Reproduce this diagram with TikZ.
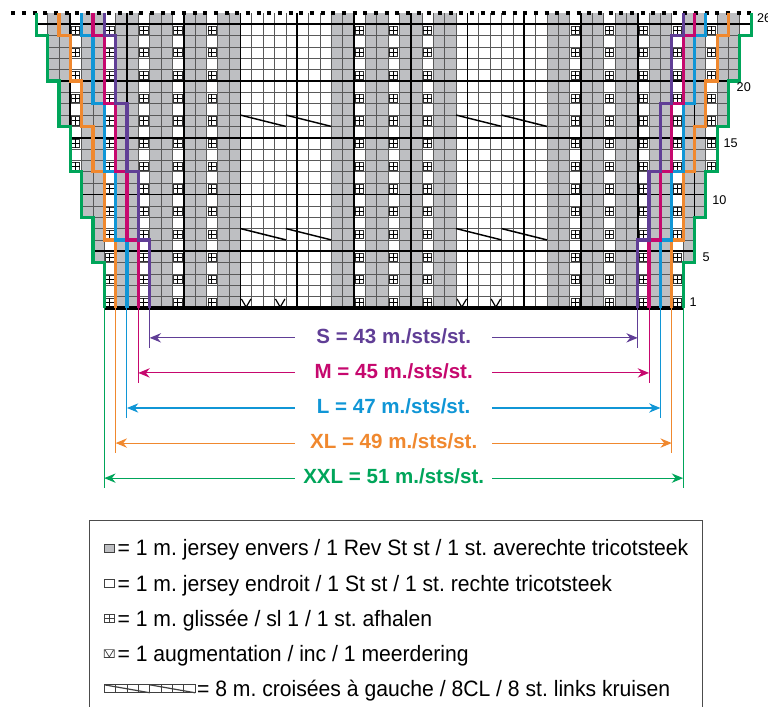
\documentclass[tikz,border=0pt]{standalone}
\usepackage{fontspec}
\setmainfont{Liberation Sans}
\newfontfamily\keyfont[FakeStretch=0.95]{Liberation Sans}
\usepackage{tikz}
\usetikzlibrary{arrows.meta,calc,positioning}

\definecolor{sizeS}{RGB}{96,62,150}
\definecolor{sizeM}{RGB}{198,8,110}
\definecolor{sizeL}{RGB}{16,150,214}
\definecolor{sizeXL}{RGB}{240,136,46}
\definecolor{sizeXXL}{RGB}{0,165,90}
\definecolor{purlgray}{RGB}{190,191,194}

\tikzset{
  cellline/.style={black!65, line width=0.55pt},
  fiveline/.style={black, line width=1.3pt},
  slipmark/.style={black, line width=0.6pt},
  slipbox/.style={black!80, line width=0.45pt},
  incmark/.style={black, line width=0.9pt},
  cableline/.style={black, line width=1.1pt},
  topedge/.style={black, line width=3pt, dash pattern=on 3pt off 5pt},
  sizeline/.style={line width=2.4pt},
  guide/.style={line width=0.75pt},
  dimarrow/.style={line width=0.8pt, {Stealth[length=8.5pt,width=7pt,inset=2.8pt]}-{Stealth[length=8.5pt,width=7pt,inset=2.8pt]}},
  dimlabel/.style={fill=white, minimum width=147.5pt, inner sep=0pt, font=\fontsize{15.4}{18}\selectfont\bfseries},
  rowlabel/.style={anchor=west, inner sep=0pt, font=\fontsize{9.5}{11}\selectfont},
  keyframe/.style={black!70, line width=0.7pt},
  keysym/.style={black!75, line width=0.55pt},
  keytext/.style={anchor=base west, inner sep=0pt, font=\keyfont\fontsize{16.7}{18}\selectfont},
}

\begin{document}
\frenchspacing
\begin{tikzpicture}[x=8.5125pt, y=8.5125pt]
  \useasboundingbox (-9.19,-35.07) rectangle (58.48,27.14);

  % Stitches: purl cells and slip marks
  \foreach \r in {1,...,26}{
    \pgfmathtruncatemacro\lo{-floor((\r-1)/4)}
    \pgfmathtruncatemacro\hi{50+floor((\r-1)/4)}
    \foreach \c in {\lo,...,\hi}{
      \pgfmathtruncatemacro\side{(\c<12) ? 0 : ((\c<31) ? 1 : 2)}
      \pgfmathtruncatemacro\panel{((\c>11) && (\c<20)) || ((\c>30) && (\c<39))}
      \pgfmathtruncatemacro\slip{(\panel==0) && (mod(\c+12-\side,3)==0)}
      \pgfmathtruncatemacro\purl{(\panel==0) && (\slip==0)}
      \pgfmathtruncatemacro\mark{(\slip==1) && (mod(\r,2)==1) && (\c>-6) && (\c<56)}
      \ifnum\purl=1 \fill[purlgray] (\c,\r-1) rectangle ++(1,1); \fi
      \ifnum\mark=1
        \draw[slipbox] (\c+0.12,\r-0.86) rectangle (\c+0.84,\r-0.14);
        \draw[slipmark] (\c+0.12,\r-0.5) -- (\c+0.84,\r-0.5) (\c+0.48,\r-0.86) -- (\c+0.48,\r-0.14);
      \fi
    }
  }

  % Grid
  \foreach \k in {-6,...,57}{
    \pgfmathtruncatemacro\yb{4*max(0,-\k,\k-51)}
    \draw[cellline] (\k,\yb) -- (\k,26);
  }
  \foreach \y in {1,...,25}{
    \pgfmathtruncatemacro\xb{-floor(\y/4)}
    \draw[cellline] (\xb,\y) -- (51-\xb,\y);
  }
  \foreach \k in {-3,2,...,52}{
    \pgfmathtruncatemacro\yb{4*max(0,-\k,\k-51)}
    \draw[fiveline] (\k,\yb) -- (\k,26);
  }
  \foreach \y in {5,10,...,25}{
    \pgfmathtruncatemacro\xb{-floor(\y/4)}
    \draw[fiveline] (\xb,\y) -- (51-\xb,\y);
  }

  % Cast-on edge and open top
  \draw[line width=3.2pt] (0,0) -- (51,0);
  \draw[topedge] (-8.2,26) -- (57.4,26);

  % Cables (rows 7, 17) and increases (row 1)
  \foreach \r in {7,17}{
    \draw[cableline] (12,\r) -- (16,\r-1) (16,\r) -- (20,\r-1)
                     (31,\r) -- (35,\r-1) (35,\r) -- (39,\r-1);
  }
  \foreach \c in {12,15,31,34}{
    \draw[incmark] (\c+0.08,0.8) -- (\c+0.5,0.08) -- (\c+0.92,0.8);
  }

  % Size outlines, left side mirrored to the right
  \foreach \flip in {1,-1}{
    \begin{scope}[shift={(25.5,0)}, xscale=\flip, shift={(-25.5,0)}]
      \draw[sizeline, sizeXXL] (0,0) |- (-1,4) |- (-2,8) |- (-3,12) |- (-4,16) |- (-5,20) |- (-6,24) -- (-6,26);
      \draw[sizeline, sizeXL] (1,0) |- (0,6) |- (-1,12) |- (-2,16) |- (-3,20) |- (-4,24) -- (-4,26);
      \draw[sizeline, sizeL] (2,0) |- (1,6) |- (0,12) |- (-1,18) |- (-2,24) -- (-2,26);
      \draw[sizeline, sizeM] (3,0) |- (2,6) |- (1,12) |- (0,18) |- (-1,24) -- (-1,26);
      \draw[sizeline, sizeS] (4,0) |- (3,6) |- (2,12) |- (1,18) |- (0,24) -- (0,26);
    \end{scope}
  }

  % Row numbers
  \node[rowlabel] (row1) at (51.55,0.5) {1};
  \node[rowlabel] (row5) at (52.7,4.5) {5};
  \node[rowlabel] (row10) at (53.55,9.5) {10};
  \node[rowlabel] (row15) at (54.55,14.5) {15};
  \node[rowlabel] (row20) at (55.7,19.5) {20};
  \node[rowlabel] (row26) at (57.5,25.5) {26};

  % Widths per size
  \foreach \k/\col/\lab [count=\i from 0] in {4/sizeS/S = 43, 3/sizeM/M = 45, 2/sizeL/L = 47, 1/sizeXL/XL = 49, 0/sizeXXL/XXL = 51}{
    \pgfmathsetmacro\ya{-2.63-3.09*\i}
    \coordinate (left\i) at (\k,\ya);
    \coordinate (right\i) at (51-\k,\ya);
    \draw[guide, \col] (\k,0) -- (\k,\ya-0.85) (51-\k,0) -- (51-\k,\ya-0.85);
    \draw[dimarrow, \col] (left\i) -- (right\i);
    \node[dimlabel, text=\col] (dim\i) at (25.5,\ya+0.15) {\lab{} m./sts/st.};
  }

  % Key
  \draw[keyframe] (-1.35,-37) |- (52.74,-18.68) -- (52.74,-37);
  \draw[keysym, fill=purlgray] (0,-21.5) rectangle (0.88,-20.8);
  \node[keytext] (key1) at (1.15,-21.85) {= 1 m. jersey envers / 1 Rev St st / 1 st. averechte tricotsteek};
  \draw[keysym] (0,-24.6) rectangle (0.88,-23.9);
  \node[keytext] (key2) at (1.15,-24.95) {= 1 m. jersey endroit / 1 St st / 1 st. rechte tricotsteek};
  \draw[keysym] (0,-27.7) rectangle (0.88,-27) (0.44,-27.7) -- (0.44,-27) (0,-27.35) -- (0.88,-27.35);
  \node[keytext] (key3) at (1.15,-28.05) {= 1 m. glissée / sl 1 / 1 st. afhalen};
  \draw[keysym] (0,-30.8) rectangle (0.88,-30.1) (0.08,-30.15) -- (0.44,-30.75) -- (0.8,-30.15);
  \node[keytext] (key4) at (1.15,-31.15) {= 1 augmentation / inc / 1 meerdering};
  \draw[keysym] (0,-33.9) rectangle (8,-33.2);
  \foreach \c in {1,...,7}{ \draw[keysym] (\c,-33.9) -- (\c,-33.2); }
  \draw[keysym, line width=0.9pt] (0,-33.2) -- (4,-33.9) (4,-33.2) -- (8,-33.9);
  \node[keytext] (key5) at (8.15,-34.25) {= 8 m. croisées à gauche / 8CL / 8 st. links kruisen};
\end{tikzpicture}
\end{document}
